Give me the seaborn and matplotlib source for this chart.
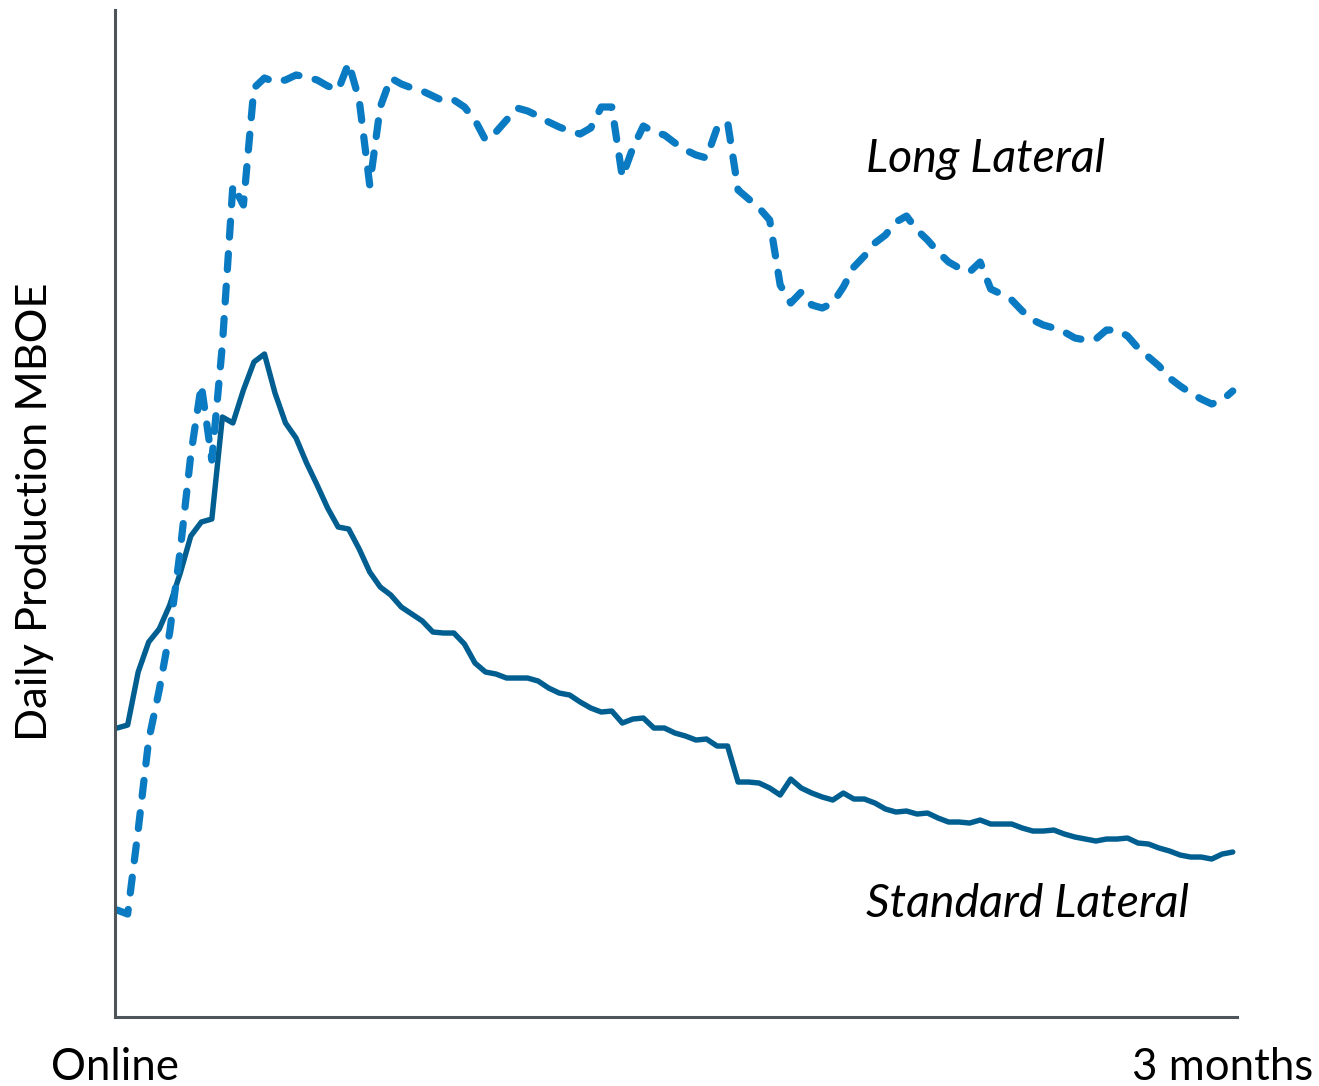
import numpy as np
import pandas as pd
import matplotlib.pyplot as plt
import seaborn as sns

plt.switch_backend("Agg")

# production values per day (arbitrary MBOE scale)
standard_lateral = [
    28.9, 29.2, 34.5, 37.5, 38.8, 41.2, 44.4, 48.1, 49.5, 49.8,
    60.0, 59.4, 62.7, 65.5, 66.3, 62.4, 59.4, 57.9, 55.4, 53.2,
    50.9, 49.0, 48.8, 46.8, 44.5, 43.0, 42.2, 41.0, 40.3, 39.6,
    38.5, 38.4, 38.4, 37.3, 35.4, 34.5, 34.3, 33.9, 33.9, 33.9,
    33.6, 32.9, 32.4, 32.2, 31.5, 30.9, 30.5, 30.6, 29.4, 29.8,
    29.9, 28.9, 28.9, 28.4, 28.1, 27.7, 27.8, 27.1, 27.1, 23.5,
    23.5, 23.4, 22.9, 22.2, 23.8, 22.9, 22.4, 22.0, 21.7, 22.4,
    21.8, 21.8, 21.4, 20.8, 20.5, 20.6, 20.3, 20.4, 19.9, 19.5,
    19.5, 19.4, 19.7, 19.3, 19.3, 19.3, 18.9, 18.6, 18.6, 18.7,
    18.3, 18.0, 17.8, 17.6, 17.8, 17.8, 17.9, 17.4, 17.3, 16.9,
    16.6, 16.2, 16.0, 16.0, 15.8, 16.3, 16.5,
]

long_lateral = [
    10.7, 10.3, 18.7, 27.7, 32.7, 38.5, 46.7, 56.2, 63.2, 55.7,
    67.2, 83.2, 81.2, 92.9, 93.9, 93.5, 93.7, 94.2, 94.0, 93.7,
    93.1, 92.7, 95.4, 91.7, 83.2, 91.0, 93.9, 93.3, 92.9, 92.6,
    92.1, 91.6, 91.7, 91.0, 89.7, 87.7, 88.5, 89.7, 90.9, 90.6,
    90.1, 89.5, 89.0, 88.6, 88.3, 88.9, 91.0, 91.0, 84.0, 86.9,
    89.1, 88.5, 88.2, 87.4, 86.7, 86.2, 85.9, 88.9, 89.5, 82.7,
    81.8, 80.9, 79.7, 73.2, 71.4, 72.5, 71.2, 70.9, 71.4, 73.0,
    75.0, 76.1, 77.4, 78.2, 79.5, 80.1, 78.7, 77.7, 76.5, 75.5,
    74.9, 74.5, 75.5, 72.8, 72.3, 71.7, 70.6, 69.7, 69.2, 68.9,
    68.5, 67.9, 67.7, 67.8, 68.7, 68.7, 68.1, 66.9, 66.0, 65.1,
    63.9, 63.1, 62.4, 61.8, 61.3, 61.7, 62.6,
]

days = np.arange(len(standard_lateral))

df = pd.DataFrame({
    "day": np.concatenate([days, days]),
    "mboe": standard_lateral + long_lateral,
    "well": ["Standard Lateral"] * len(days) + ["Long Lateral"] * len(days),
})

sns.set_style("white")
plt.rcParams["font.family"] = ["Lato", "DejaVu Sans"]
plt.rcParams["text.color"] = "black"

fig = plt.figure(figsize=(13.19, 10.86), dpi=100)
ax = fig.add_axes([0.0872, 0.0635, 0.8506, 0.9273])

std = df[df["well"] == "Standard Lateral"]
lng = df[df["well"] == "Long Lateral"]

sns.lineplot(data=std, x="day", y="mboe", ax=ax, color="#005e90", lw=3.9,
             legend=False)
sns.lineplot(data=lng, x="day", y="mboe", ax=ax, color="#0a7bc2", lw=5.2,
             legend=False)
ax.lines[-1].set_linestyle((0, (2.2, 2.3)))
ax.lines[-1].set_dash_capstyle("round")
ax.lines[-1].set_dash_joinstyle("round")

ax.set_xlim(-0.2, 106.4)
ax.set_ylim(0, 100.7)
ax.set_xticks([])
ax.set_yticks([])
ax.set_xlabel("")
ax.set_ylabel("")
sns.despine(ax=ax)
for side in ["left", "bottom"]:
    ax.spines[side].set_color("#4d555b")
    ax.spines[side].set_linewidth(2.2)

ax.text(0.669, 0.839, "Long Lateral", transform=ax.transAxes, fontsize=33.5,
        style="italic", ha="left", va="baseline", color="black")
ax.text(0.669, 0.099, "Standard Lateral", transform=ax.transAxes, fontsize=33.5,
        style="italic", ha="left", va="baseline", color="black")

fig.text(0.0872, 0.0055, "Online", fontsize=31.5, ha="center", va="baseline",
         color="black")
fig.text(0.927, 0.0055, "3 months", fontsize=31.5, ha="center", va="baseline",
         color="black")
fig.text(0.0265, 0.5285, "Daily Production MBOE", fontsize=31.2, rotation=90,
         ha="center", va="center", color="black")

fig.savefig("out.png", dpi=100)
